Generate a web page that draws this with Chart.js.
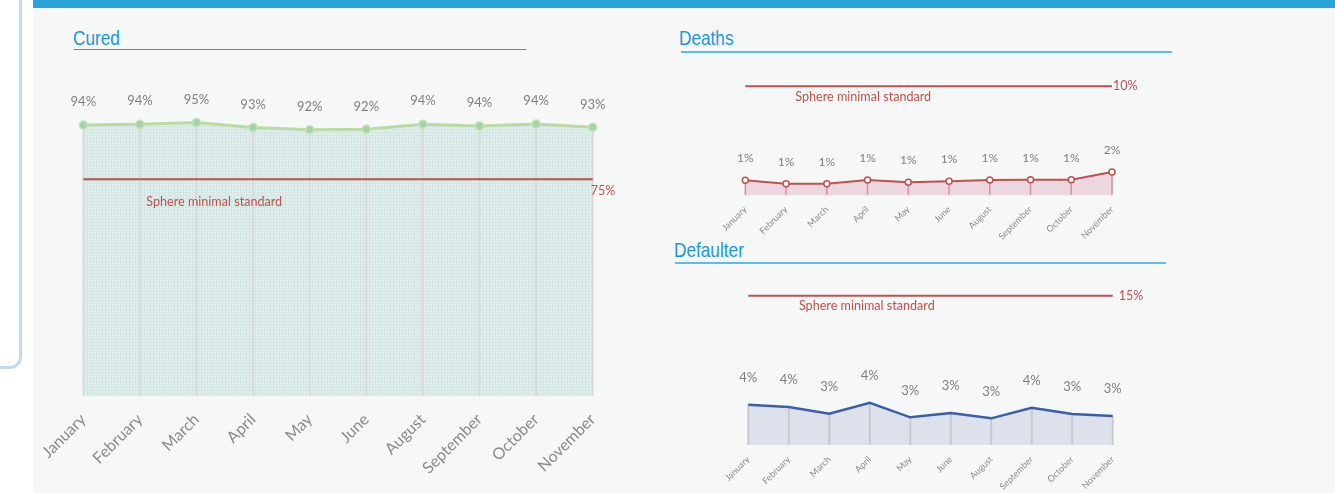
<!DOCTYPE html>
<html>
<head>
<meta charset="utf-8">
<script src="https://cdn.jsdelivr.net/npm/chart.js@4.4.0/dist/chart.umd.min.js"></script>
<style>
  html, body { margin: 0; padding: 0; width: 1335px; height: 493px; overflow: hidden; background: #fff; }
  #frame { position: absolute; left: -100px; top: -12px; width: 116px; height: 375px; border: 3px solid #bddcf3; border-radius: 12px; }
  #panel { position: absolute; left: 33px; top: 0; width: 1302px; height: 493px; background: #f6f8f7; }
  #bar { position: absolute; left: 33px; top: 0; width: 1302px; height: 8px; background: #29a4d8; }
  .title { position: absolute; font-family: "Liberation Sans", Arial, sans-serif; font-size: 21px; line-height: 21px; color: #1b97d7; transform: scaleX(0.82); transform-origin: 0 0; }
  .rule { position: absolute; height: 0; }
  .box { position: absolute; }
</style>
</head>
<body>
<div id="frame"></div>
<div id="panel"></div>
<div id="bar"></div>

<div class="title" style="left:73px;top:27px;">Cured</div>
<div class="rule" style="left:74px;top:49px;width:452px;border-top:1.5px solid #1c9ddf;"></div>
<div class="title" style="left:679px;top:27px;">Deaths</div>
<div class="rule" style="left:681px;top:51px;width:491px;border-top:2px solid #5dbce9;"></div>
<div class="title" style="left:674px;top:239px;">Defaulter</div>
<div class="rule" style="left:675px;top:262px;width:491px;border-top:2px solid #5dbce9;"></div>

<div class="box" style="left:0;top:60px;width:640px;height:433px;"><canvas id="curedChart"></canvas></div>
<div class="box" style="left:640px;top:55px;width:695px;height:190px;"><canvas id="deathsChart"></canvas></div>
<div class="box" style="left:640px;top:270px;width:695px;height:223px;"><canvas id="defaulterChart"></canvas></div>

<script>
// data (percent)
const months = ['January', 'February', 'March', 'April', 'May', 'June', 'August', 'September', 'October', 'November'];
const curedValues = [93.8, 94.05, 94.7, 92.9, 92.2, 92.3, 94.05, 93.5, 94.15, 93.0];
const curedStandard = [75, 75, 75, 75, 75, 75, 75, 75, 75, 75];
const deathValues = [1.35, 1.04, 1.04, 1.38, 1.17, 1.26, 1.38, 1.41, 1.41, 2.12];
const deathStandard = [10, 10, 10, 10, 10, 10, 10, 10, 10, 10];
const defaulterValues = [4.05, 3.82, 3.14, 4.25, 2.78, 3.22, 2.68, 3.75, 3.11, 2.91];
const defaulterStandard = [15, 15, 15, 15, 15, 15, 15, 15, 15, 15];
const standardText = 'Sphere minimal standard';

const RED = '#c0504d';
const LABEL_GREY = '#7f7f7f';
const FONT = 'Lato, "Open Sans", sans-serif';

function gridPattern() {
    const c = document.createElement('canvas');
    c.width = 3; c.height = 3;
    const g = c.getContext('2d');
    g.fillStyle = '#e0eeec';
    g.fillRect(0, 0, 3, 3);
    g.fillStyle = '#d3e6e5';
    g.fillRect(0, 0, 3, 1);
    g.fillRect(0, 0, 1, 3);
    return g.createPattern(c, 'repeat');
}

// vertical lines from each point down to the baseline, drawn over the fill
const dropLines = {
    id: 'dropLines',
    beforeDatasetDraw(chart, args, opts) {
        if (args.index !== 1) return;
        const ctx = chart.ctx;
        const base = chart.scales.y.getPixelForValue(0);
        ctx.save();
        ctx.strokeStyle = opts.color;
        ctx.lineWidth = opts.width;
        args.meta.data.forEach(p => {
            ctx.beginPath();
            ctx.moveTo(p.x, p.y);
            ctx.lineTo(p.x, base);
            ctx.stroke();
        });
        ctx.restore();
    }
};

// value labels above the points and text at the standard line
const labels = {
    id: 'labels',
    afterDatasetsDraw(chart, args, opts) {
        const ctx = chart.ctx;
        const area = chart.chartArea;
        ctx.save();
        const meta = chart.getDatasetMeta(1);
        const values = chart.data.datasets[1].data;
        ctx.fillStyle = LABEL_GREY;
        ctx.font = opts.valueSize + 'px ' + FONT;
        ctx.textAlign = 'center';
        ctx.textBaseline = 'middle';
        meta.data.forEach((p, i) => {
            ctx.fillText(Math.round(values[i]) + '%', p.x, p.y - opts.valueOffset);
        });

        const std = chart.data.datasets[0].data[0];
        const y = chart.scales.y.getPixelForValue(std);
        ctx.fillStyle = RED;
        ctx.font = '12.5px ' + FONT;
        ctx.textAlign = 'left';
        ctx.fillText(std + '%', area.right + opts.stdDx, y + opts.stdDy);
        ctx.font = '12.6px ' + FONT;
        ctx.fillText(standardText, area.left + opts.textDx, y + opts.textDy);
        ctx.restore();
    }
};

function makeChart(id, values, standard, cfg) {
    return new Chart(document.getElementById(id), {
        type: 'line',
        data: {
            labels: months,
            datasets: [{
                data: standard,
                borderColor: RED,
                borderWidth: cfg.stdWidth,
                pointRadius: 0,
                fill: false,
                order: 0
            }, {
                data: values,
                borderColor: cfg.lineColor,
                borderWidth: cfg.lineWidth,
                backgroundColor: cfg.fill,
                fill: 'origin',
                tension: 0,
                pointRadius: cfg.pointRadius,
                pointBackgroundColor: cfg.pointFill,
                pointBorderColor: cfg.pointBorder,
                pointBorderWidth: cfg.pointBorderWidth,
                order: 1
            }]
        },
        options: {
            responsive: true,
            maintainAspectRatio: false,
            animation: false,
            layout: { padding: cfg.padding },
            plugins: {
                legend: { display: false },
                tooltip: { enabled: false },
                dropLines: { color: cfg.dropColor, width: cfg.dropWidth },
                labels: cfg.labels
            },
            scales: {
                x: {
                    offset: false,
                    grid: { display: false, drawTicks: false },
                    border: { display: false },
                    ticks: {
                        autoSkip: false,
                        minRotation: 45,
                        maxRotation: 45,
                        padding: cfg.tickPad,
                        color: '#8a8a8a',
                        font: { family: FONT, size: cfg.tickSize }
                    },
                    afterFit: s => { s.height = cfg.axisHeight; }
                },
                y: { display: false, min: 0, max: cfg.yMax }
            }
        },
        plugins: [dropLines, labels]
    });
}

makeChart('curedChart', curedValues, curedStandard, {
    stdWidth: 2, lineColor: '#b9dba0', lineWidth: 3, fill: gridPattern(),
    pointRadius: 4, pointFill: '#a2d5a6', pointBorder: '#c4e2b2', pointBorderWidth: 1.5,
    dropColor: '#dbd5d8', dropWidth: 1.5,
    padding: { left: 83.3, right: 47.3, top: 47.1, bottom: 0 },
    tickPad: 14, tickSize: 16, axisHeight: 97, yMax: 100,
    labels: { valueSize: 13, valueOffset: 23, stdDx: -2, stdDy: 12, textDx: 63, textDy: 22.4 }
});

makeChart('deathsChart', deathValues, deathStandard, {
    stdWidth: 2, lineColor: RED, lineWidth: 2, fill: '#ecd6df',
    pointRadius: 3, pointFill: '#ffffff', pointBorder: RED, pointBorderWidth: 1.5,
    dropColor: '#d98ea6', dropWidth: 1.5,
    padding: { left: 105.3, right: 223, top: 20.4, bottom: 0 },
    tickPad: 9, tickSize: 9, axisHeight: 50, yMax: 11,
    labels: { valueSize: 12, valueOffset: 22, stdDx: 1, stdDy: 0, textDx: 50, textDy: 10.4 }
});

makeChart('defaulterChart', defaulterValues, defaulterStandard, {
    stdWidth: 2, lineColor: '#3a5dae', lineWidth: 2.5, fill: '#dce1ec',
    pointRadius: 0, pointFill: '#3a5dae', pointBorder: '#3a5dae', pointBorderWidth: 0,
    dropColor: '#c9c9cc', dropWidth: 2,
    padding: { left: 108.3, right: 222.3, top: 15.8, bottom: 0 },
    tickPad: 9, tickSize: 9, axisHeight: 48, yMax: 16,
    labels: { valueSize: 13, valueOffset: 27, stdDx: 6, stdDy: 0, textDx: 50.6, textDy: 10.3 }
});
</script>
</body>
</html>
